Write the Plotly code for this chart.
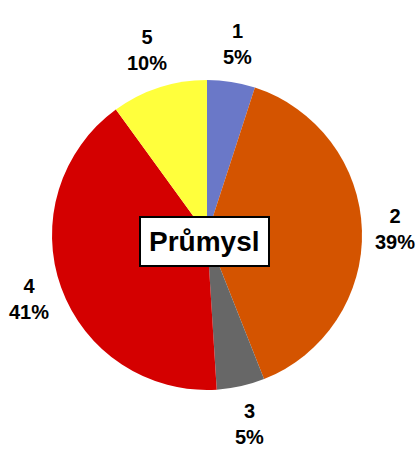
import math
import plotly.graph_objects as go

categories = ["1", "2", "3", "4", "5"]
values = [5, 39, 5, 41, 10]
colors = ["#6a78c8", "#d45400", "#676767", "#d40000", "#ffff3c"]
center_title = "Průmysl"

W, H = 416, 451
cx, cy, R = 207, 235, 155  # pie centre / radius in pixels

fig = go.Figure(go.Pie(
    labels=categories,
    values=values,
    sort=False,
    direction="clockwise",
    rotation=0,
    marker=dict(colors=colors, line=dict(width=0)),
    textinfo="none",
    hoverinfo="label+percent",
    showlegend=False,
    domain=dict(x=[(cx - R) / W, (cx + R) / W],
                y=[1 - (cy + R) / H, 1 - (cy - R) / H]),
))

total = sum(values)
cum = 0
annotations = []
d, hw, hh = 168, 20, 25  # label gap from centre, half label width/height
for cat, v in zip(categories, values):
    mid = (cum + v / 2) / total * 2 * math.pi
    cum += v
    s, c = math.sin(mid), math.cos(mid)
    ext = min(hw / abs(s) if abs(s) > 1e-6 else 1e9, hh / abs(c) if abs(c) > 1e-6 else 1e9)
    r = d + ext
    px = cx + r * s
    py = cy - r * c
    pct = round(v / total * 100)
    annotations.append(dict(
        x=px / W, y=1 - py / H, xref="paper", yref="paper",
        text=f"{cat}<br>{pct}%", showarrow=False,
        font=dict(family="Liberation Sans, Arial", size=20, color="black", weight="bold"),
        xanchor="center", yanchor="middle", align="center",
    ))

annotations.append(dict(
    x=204 / W, y=1 - 241.5 / H, xref="paper", yref="paper",
    text=f"<b>{center_title}</b>", showarrow=False,
    font=dict(family="Liberation Sans, Arial", size=28, color="black"),
    bgcolor="white", bordercolor="black", borderwidth=2, borderpad=8,
    xanchor="center", yanchor="middle",
))

fig.update_layout(
    width=W, height=H,
    margin=dict(l=0, r=0, t=0, b=0),
    paper_bgcolor="white",
    plot_bgcolor="white",
    annotations=annotations,
)

fig.write_html("out.html", config={"displayModeBar": False})

# remove the default page margin so the figure sits at the window origin
with open("out.html", encoding="utf-8") as f:
    html = f.read()
html = html.replace("<head>", "<head><style>body{margin:0;overflow:hidden}</style>", 1)
with open("out.html", "w", encoding="utf-8") as f:
    f.write(html)
